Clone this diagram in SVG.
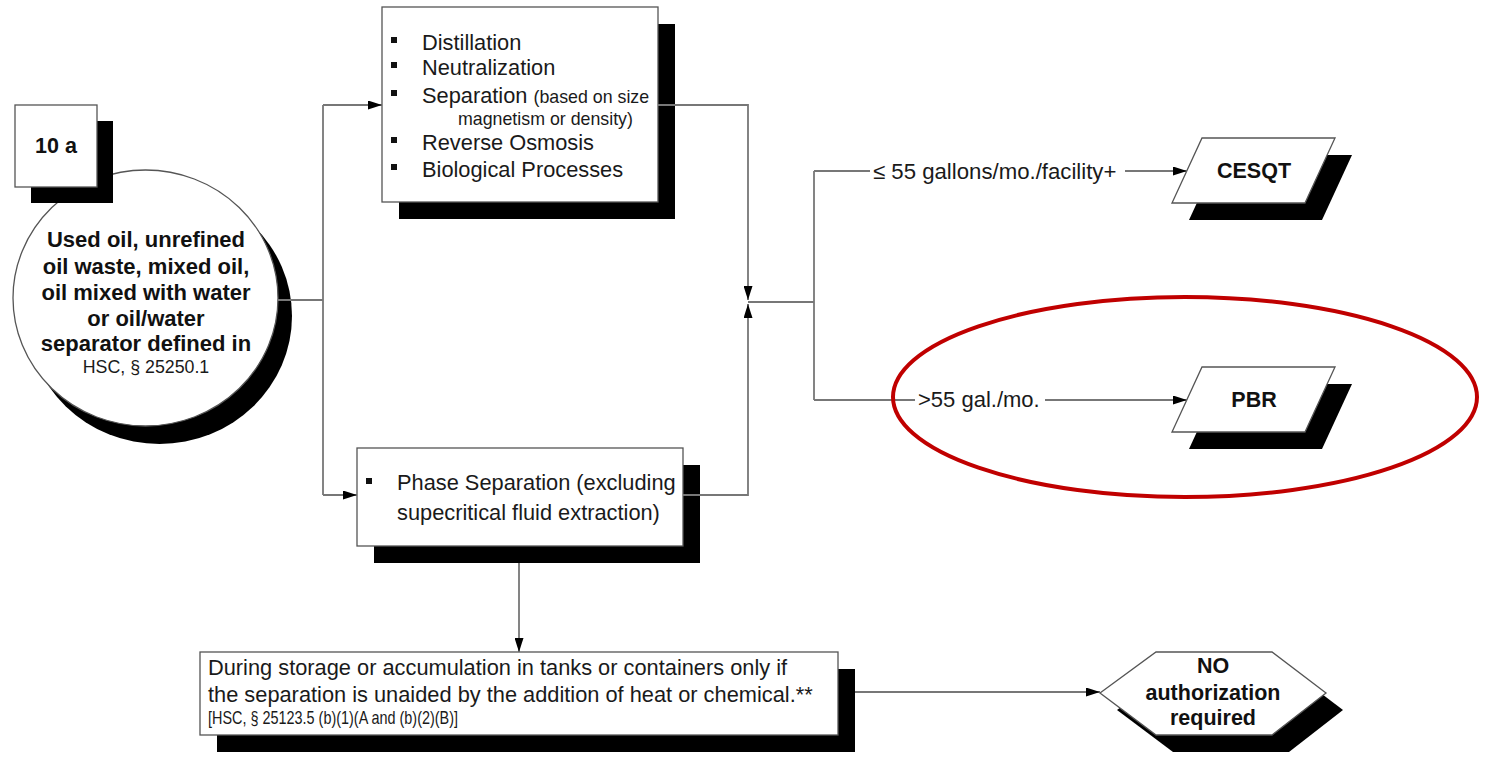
<svg xmlns="http://www.w3.org/2000/svg" width="1489" height="759" viewBox="0 0 1489 759">
<defs>
<marker id="arr" viewBox="0 0 14 9" refX="14" refY="4.5" markerWidth="14" markerHeight="9" orient="auto" markerUnits="userSpaceOnUse"><path d="M0,0 L14,4.5 L0,9 z" fill="#000"/></marker>
</defs>
<style>
.box{fill:#fff;stroke:#555;stroke-width:1.3}
.sh{fill:#000}
.t{font-family:"Liberation Sans",Arial,sans-serif;font-size:21.8px;fill:#1a1a1a}
.b{font-family:"Liberation Sans",Arial,sans-serif;font-size:21.5px;font-weight:bold;fill:#111}
.s{font-family:"Liberation Sans",Arial,sans-serif;font-size:17.8px;fill:#1a1a1a}
.c{stroke:#777;stroke-width:1.8;fill:none}
.bul{fill:#111}
</style>
<rect width="1489" height="759" fill="#fff"/>

<g id="node-source">
<ellipse class="sh" cx="159.5" cy="316" rx="132.5" ry="128"/>
<ellipse class="box" cx="145.5" cy="298" rx="132.5" ry="128"/>
<text class="b" text-anchor="middle" x="146" y="246.5" style="font-size:22px">Used oil, unrefined</text>
<text class="b" text-anchor="middle" x="146" y="273.5" style="font-size:22px">oil waste, mixed oil,</text>
<text class="b" text-anchor="middle" x="146" y="299.5" style="font-size:22px">oil mixed with water</text>
<text class="b" text-anchor="middle" x="146" y="325.5" style="font-size:22px">or oil/water</text>
<text class="b" text-anchor="middle" x="146" y="350.5" style="font-size:22px">separator defined in</text>
<text class="s" text-anchor="middle" x="146" y="373">HSC, § 25250.1</text>
</g>

<g id="node-10a">
<rect class="sh" x="31" y="121" width="82" height="82"/>
<rect class="box" x="15" y="105" width="82" height="82"/>
<text class="b" text-anchor="middle" x="56" y="153">10 a</text>
</g>

<g id="node-processes">
<rect class="sh" x="399" y="24" width="276" height="195"/>
<rect class="box" x="382" y="7" width="276" height="195"/>
<rect class="bul" x="391" y="37" width="6" height="6"/>
<text class="t" x="422" y="49.5">Distillation</text>
<rect class="bul" x="391" y="62" width="6" height="6"/>
<text class="t" x="422" y="74.5">Neutralization</text>
<rect class="bul" x="391" y="90" width="6" height="6"/>
<text class="t" x="422" y="102.5">Separation <tspan style="font-size:17.8px">(based on size</tspan></text>
<text class="s" x="458" y="125">magnetism or density)</text>
<rect class="bul" x="391" y="137" width="6" height="6"/>
<text class="t" x="422" y="149.5">Reverse Osmosis</text>
<rect class="bul" x="391" y="164" width="6" height="6"/>
<text class="t" x="422" y="176.5">Biological Processes</text>
</g>

<g id="node-phase">
<rect class="sh" x="374" y="465" width="326" height="98"/>
<rect class="box" x="357" y="448" width="326" height="98"/>
<rect class="bul" x="366" y="478" width="6" height="6"/>
<text class="t" x="397" y="490">Phase Separation (excluding</text>
<text class="t" x="397" y="520">supecritical fluid extraction)</text>
</g>

<g id="node-storage">
<rect class="sh" x="217" y="669" width="638" height="83"/>
<rect class="box" x="200" y="652" width="638" height="83"/>
<text class="t" x="208" y="675">During storage or accumulation in tanks or containers only if</text>
<text class="t" x="208" y="702">the separation is unaided by the addition of heat or chemical.**</text>
<text class="s" x="208" y="724" textLength="250" lengthAdjust="spacingAndGlyphs">[HSC, § 25123.5 (b)(1)(A and (b)(2)(B)]</text>
</g>

<g id="node-cesqt">
<polygon class="sh" points="1219,155 1352,155 1322,220 1189,220"/>
<polygon class="box" points="1202,138 1335,138 1305,203 1172,203"/>
<text class="b" text-anchor="middle" x="1254" y="178">CESQT</text>
</g>

<g id="node-pbr">
<polygon class="sh" points="1219,384 1352,384 1322,449 1189,449"/>
<polygon class="box" points="1202,367 1335,367 1305,432 1172,432"/>
<text class="b" text-anchor="middle" x="1254" y="407">PBR</text>
</g>

<g id="node-noauth">
<polygon class="sh" points="1117,710 1173,669 1289,669 1343,710 1289,752 1173,752"/>
<polygon class="box" points="1100,693 1156,652 1272,652 1326,693 1272,735 1156,735"/>
<text class="b" text-anchor="middle" x="1213" y="673">NO</text>
<text class="b" text-anchor="middle" x="1213" y="700">authorization</text>
<text class="b" text-anchor="middle" x="1213" y="725">required</text>
</g>

<g id="connectors">
<path class="c" d="M278,300 H323"/>
<path class="c" d="M323,105 V495"/>
<path class="c" d="M323,105 H382" marker-end="url(#arr)"/>
<path class="c" d="M323,495 H357" marker-end="url(#arr)"/>
<path class="c" d="M658,105 H748 V300" marker-end="url(#arr)"/>
<path class="c" d="M683,495 H748 V304" marker-end="url(#arr)"/>
<path class="c" d="M748,302 H814"/>
<path class="c" d="M814,171 V400"/>
<path class="c" d="M814,171 H870"/>
<path class="c" d="M1125,171 H1187" marker-end="url(#arr)"/>
<path class="c" d="M814,400 H915"/>
<path class="c" d="M1045,400 H1187" marker-end="url(#arr)"/>
<path class="c" d="M519,563 V652" marker-end="url(#arr)"/>
<path class="c" d="M855,692 H1100" marker-end="url(#arr)"/>
<text class="t" x="873" y="179" style="font-size:22.2px">≤ 55 gallons/mo./facility+</text>
<text class="t" x="918" y="407" style="font-size:22px">&gt;55 gal./mo.</text>
</g>

<ellipse id="highlight" cx="1185" cy="397" rx="292" ry="100" fill="none" stroke="#c00000" stroke-width="4"/>
</svg>
